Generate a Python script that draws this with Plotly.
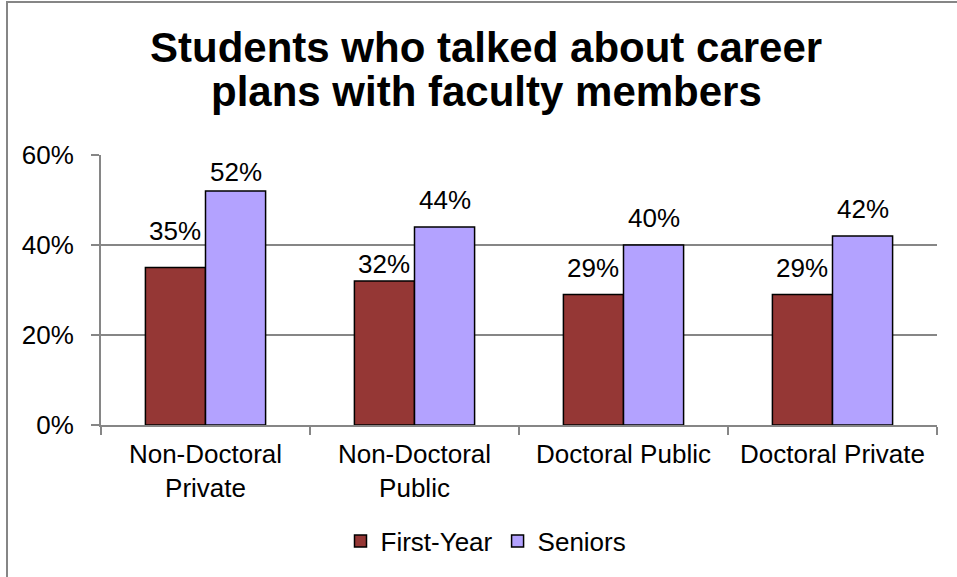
import plotly.graph_objects as go

categories = ["Non-Doctoral<br>Private", "Non-Doctoral<br>Public", "Doctoral Public", "Doctoral Private"]
first_year = [35, 32, 29, 29]
seniors = [52, 44, 40, 42]
tick_vals = [0, 20, 40, 60]
tick_text = ["0%", "20%", "40%", "60%"]
title_lines = ["Students who talked about career", "plans with faculty members"]

# label placement (pixels above bar top, to glyph centre) as in the original
first_label_gap = [37, 17, 27, 27]
senior_label_gap = [19, 27, 27, 27]

W, H = 957, 577
L, R, T, B = 101, 20, 155, 152
pw, ph = W - L - R, H - T - B
bargap = 0.425
bar_px = pw / len(categories) * (1 - bargap) / 2

FONT = "Liberation Sans, Arial, sans-serif"
gray = "#868686"
fs = 26

fig = go.Figure()
fig.add_bar(name="First-Year", x=categories, y=first_year,
            marker=dict(color="#953735", line=dict(color="black", width=1.5)))
fig.add_bar(name="Seniors", x=categories, y=seniors,
            marker=dict(color="#B3A2FF", line=dict(color="black", width=1.5)))

annotations = []
for series, gaps, sign in ((first_year, first_label_gap, -1), (seniors, senior_label_gap, 1)):
    for c, v, g in zip(categories, series, gaps):
        annotations.append(dict(x=c, y=v, xref="x", yref="y", text=f"{v}%",
                                showarrow=False, xanchor="center", yanchor="middle",
                                xshift=sign * bar_px / 2, yshift=g,
                                font=dict(family=FONT, size=fs, color="black")))

def py_to_paper(py):
    return (H - B - py) / ph

title_x = (486 - L) / pw
for line, cy in zip(title_lines, (47.5, 91.5)):
    annotations.append(dict(x=title_x, y=py_to_paper(cy), xref="paper", yref="paper",
                            text=f"<b>{line}</b>", showarrow=False,
                            xanchor="center", yanchor="middle",
                            font=dict(family=FONT, size=42, color="black")))

fig.update_layout(
    width=W, height=H,
    margin=dict(l=L, r=R, t=T, b=B, autoexpand=False),
    paper_bgcolor="white", plot_bgcolor="white",
    font=dict(family=FONT, size=fs, color="black"),
    barmode="group", bargap=bargap, bargroupgap=0,
    showlegend=True,
    legend=dict(orientation="h", x=(486 - L) / pw, xanchor="center",
                y=py_to_paper(541), yanchor="middle",
                font=dict(family=FONT, size=fs), traceorder="normal"),
    annotations=annotations,
)
fig.update_xaxes(showline=True, linecolor=gray, linewidth=2, ticks="outside",
                 tickson="boundaries", ticklen=8, tickcolor=gray, tickwidth=2,
                 showgrid=False, tickfont=dict(size=fs), ticklabelstandoff=5)
fig.update_yaxes(range=[0, 60], tickvals=tick_vals, ticktext=tick_text,
                 showline=True, linecolor=gray, linewidth=2, ticks="outside",
                 ticklen=8, tickcolor=gray, tickwidth=2,
                 showgrid=True, gridcolor=gray, gridwidth=1.5, zeroline=False,
                 tickfont=dict(size=fs), ticklabelstandoff=12)

# outer chart border (left and top visible, rest falls outside the figure)
fig.add_shape(type="rect", xref="paper", yref="paper",
              x0=(7 - L) / pw, x1=(W + 5 - L) / pw,
              y0=py_to_paper(H + 5), y1=py_to_paper(2),
              line=dict(color=gray, width=2), layer="below")

fig.write_html("out.html", config={"displayModeBar": False},
               post_script="document.body.style.margin='0';")
